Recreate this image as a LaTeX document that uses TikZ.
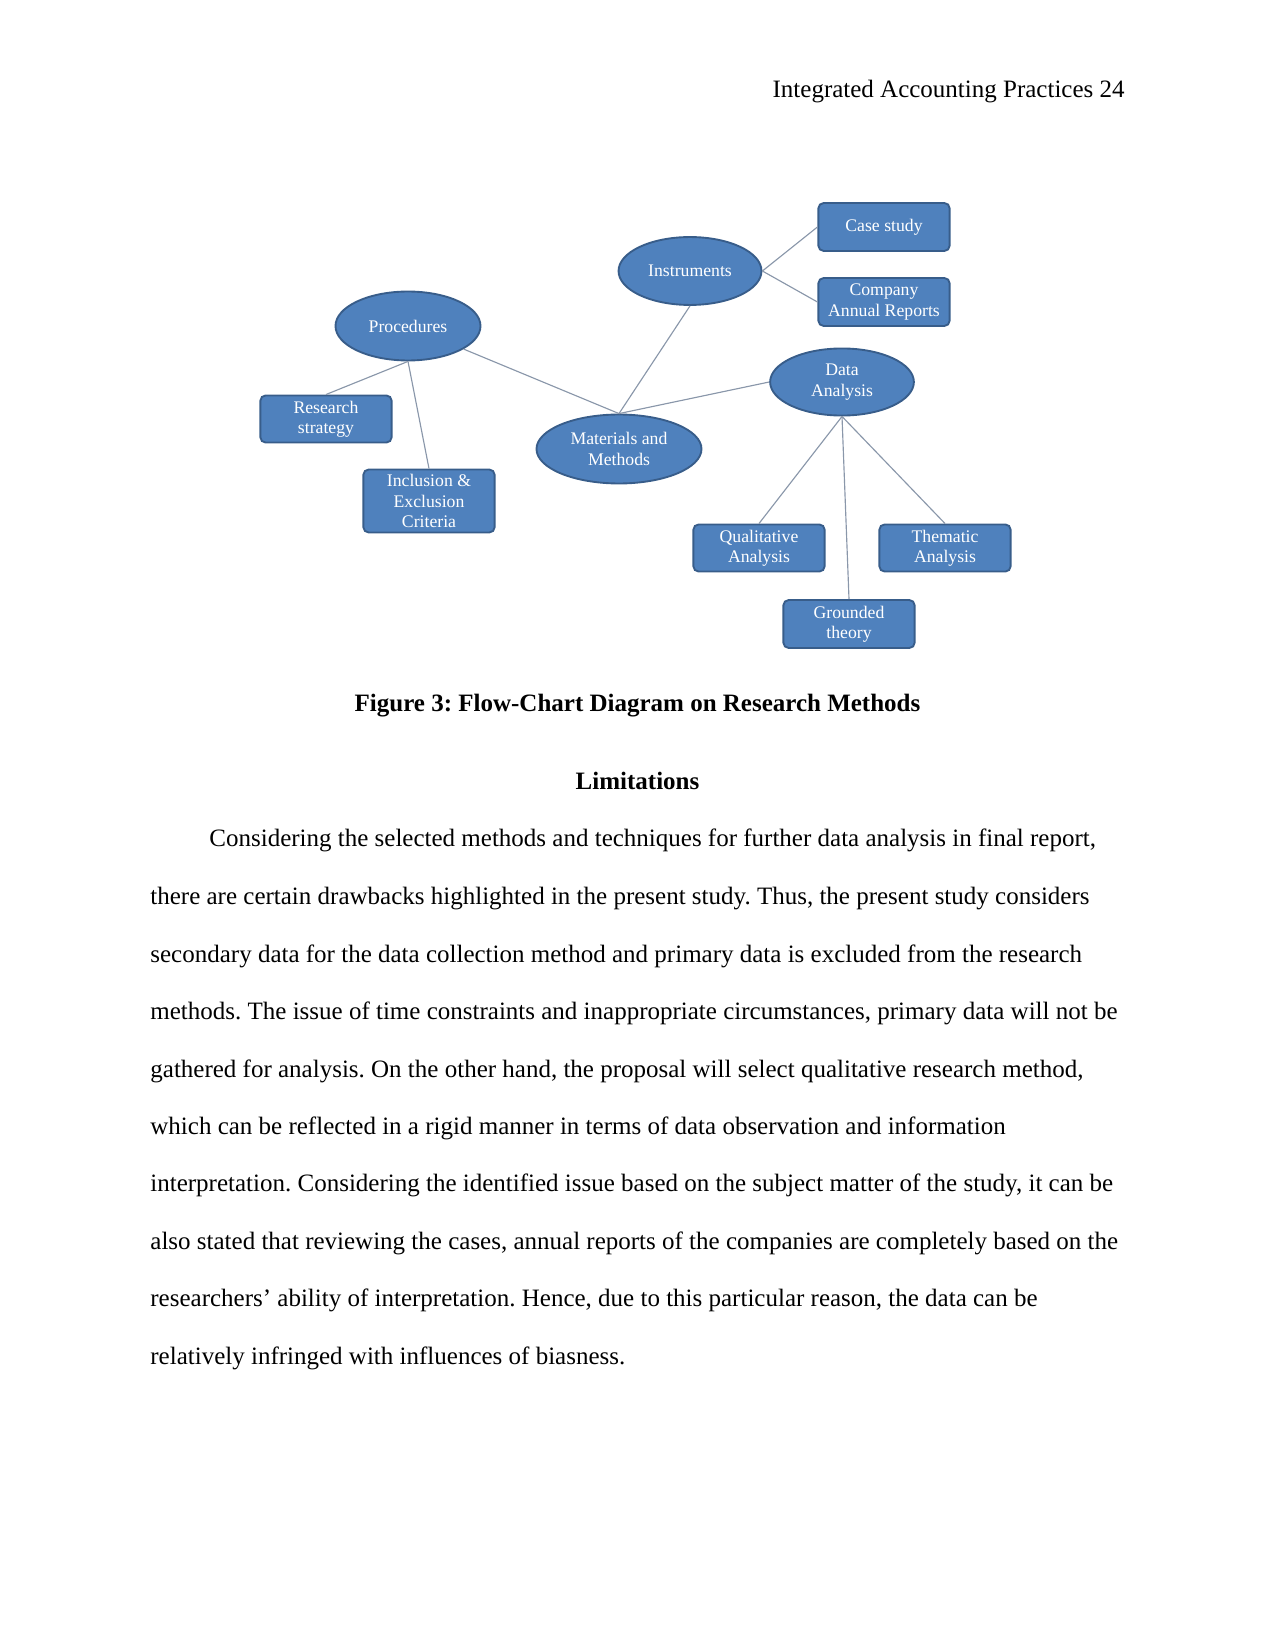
\documentclass[tikz,border=0pt]{standalone}
\usepackage{fontspec}
\setmainfont{Liberation Serif}
\usepackage{xcolor}
\usepackage{tikz}
\usetikzlibrary{shapes.geometric}

\definecolor{nodeblue}{HTML}{4F81BD}
\definecolor{edgeblue}{HTML}{385D8A}
\definecolor{linkgray}{HTML}{8A97AA}
\newcommand\diagfont{\fontsize{8.5}{9.8}\selectfont}
\frenchspacing

\begin{document}
\begin{tikzpicture}[x=0.48pt, y=-0.48pt,
    topic/.style={ellipse, draw=edgeblue, line width=0.9pt, fill=nodeblue, text=white,
                  font=\diagfont, align=center, inner sep=0pt},
    item/.style={rectangle, rounded corners=2.5pt, draw=edgeblue, line width=0.9pt, fill=nodeblue,
                 text=white, font=\diagfont, align=center, inner sep=1pt,
                 minimum width=63pt, minimum height=22.6pt},
    link/.style={draw=linkgray, line width=0.55pt},
    bodyline/.style={anchor=base west, inner sep=0pt, font=\fontsize{12}{14}\selectfont},
    heading/.style={anchor=base, inner sep=0pt, font=\fontsize{12}{14}\selectfont\bfseries}
]
\useasboundingbox (0,0) rectangle (1275,1650);

%% Running head
\node[anchor=base east, inner sep=0pt, font=\fontsize{12}{14}\selectfont] (runhead) at (1125, 98)
    {Integrated Accounting Practices 24};

%% Central topics
\node[topic, minimum width=79.2pt, minimum height=33.1pt] (methods) at (619, 449) {Materials and\\Methods};
\node[topic, minimum width=69.6pt, minimum height=33.1pt] (proc) at (408, 326) {Procedures};
\node[topic, minimum width=68.6pt, minimum height=32.6pt] (instr) at (690, 271) {Instruments};
\node[topic, minimum width=69pt, minimum height=32.2pt] (analysis) at (842, 382) {Data\\Analysis};

%% Procedures branch
\node[item] (strategy) at (326, 419) {Research\\strategy};
\node[item, minimum height=30.2pt] (criteria) at (429, 501) {Inclusion \&\\Exclusion\\Criteria};

%% Instruments branch
\node[item, minimum height=23pt] (casestudy) at (884, 227) {Case study};
\node[item, minimum height=23pt] (reports) at (884, 302) {Company\\Annual Reports};

%% Data analysis branch
\node[item] (qualitative) at (759, 548) {Qualitative\\Analysis};
\node[item] (thematic) at (945, 548) {Thematic\\Analysis};
\node[item, minimum height=23pt] (grounded) at (849, 624) {Grounded\\theory};

%% Links
\draw[link] (proc) -- (methods.north);
\draw[link] (instr.south) -- (methods.north);
\draw[link] (analysis.west) -- (methods.north);
\draw[link] (proc.south) -- (strategy.north);
\draw[link] (proc.south) -- (criteria.north);
\draw[link] (instr.east) -- (casestudy.west);
\draw[link] (instr.east) -- (reports.west);
\draw[link] (analysis.south) -- (qualitative.north);
\draw[link] (analysis.south) -- (grounded.north);
\draw[link] (analysis.south) -- (thematic.north);

%% Caption and section heading
\node[heading] (caption) at (637.5, 711) {Figure 3: Flow-Chart Diagram on Research Methods};
\node[heading] (limits) at (637.5, 789) {Limitations};

%% Body paragraph
\node[bodyline] (line1) at (209, 846) {Considering the selected methods and techniques for further data analysis in final report,};
\node[bodyline] (line2) at (150, 904) {there are certain drawbacks highlighted in the present study. Thus, the present study considers};
\node[bodyline] (line3) at (150, 962) {secondary data for the data collection method and primary data is excluded from the research};
\node[bodyline] (line4) at (150, 1019) {methods. The issue of time constraints and inappropriate circumstances, primary data will not be};
\node[bodyline] (line5) at (150, 1077) {gathered for analysis. On the other hand, the proposal will select qualitative research method,};
\node[bodyline] (line6) at (150, 1134) {which can be reflected in a rigid manner in terms of data observation and information};
\node[bodyline] (line7) at (150, 1191) {interpretation. Considering the identified issue based on the subject matter of the study, it can be};
\node[bodyline] (line8) at (150, 1249) {also stated that reviewing the cases, annual reports of the companies are completely based on the};
\node[bodyline] (line9) at (150, 1306) {researchers’ ability of interpretation. Hence, due to this particular reason, the data can be};
\node[bodyline] (line10) at (150, 1364) {relatively infringed with influences of biasness.};

\end{tikzpicture}
\end{document}
